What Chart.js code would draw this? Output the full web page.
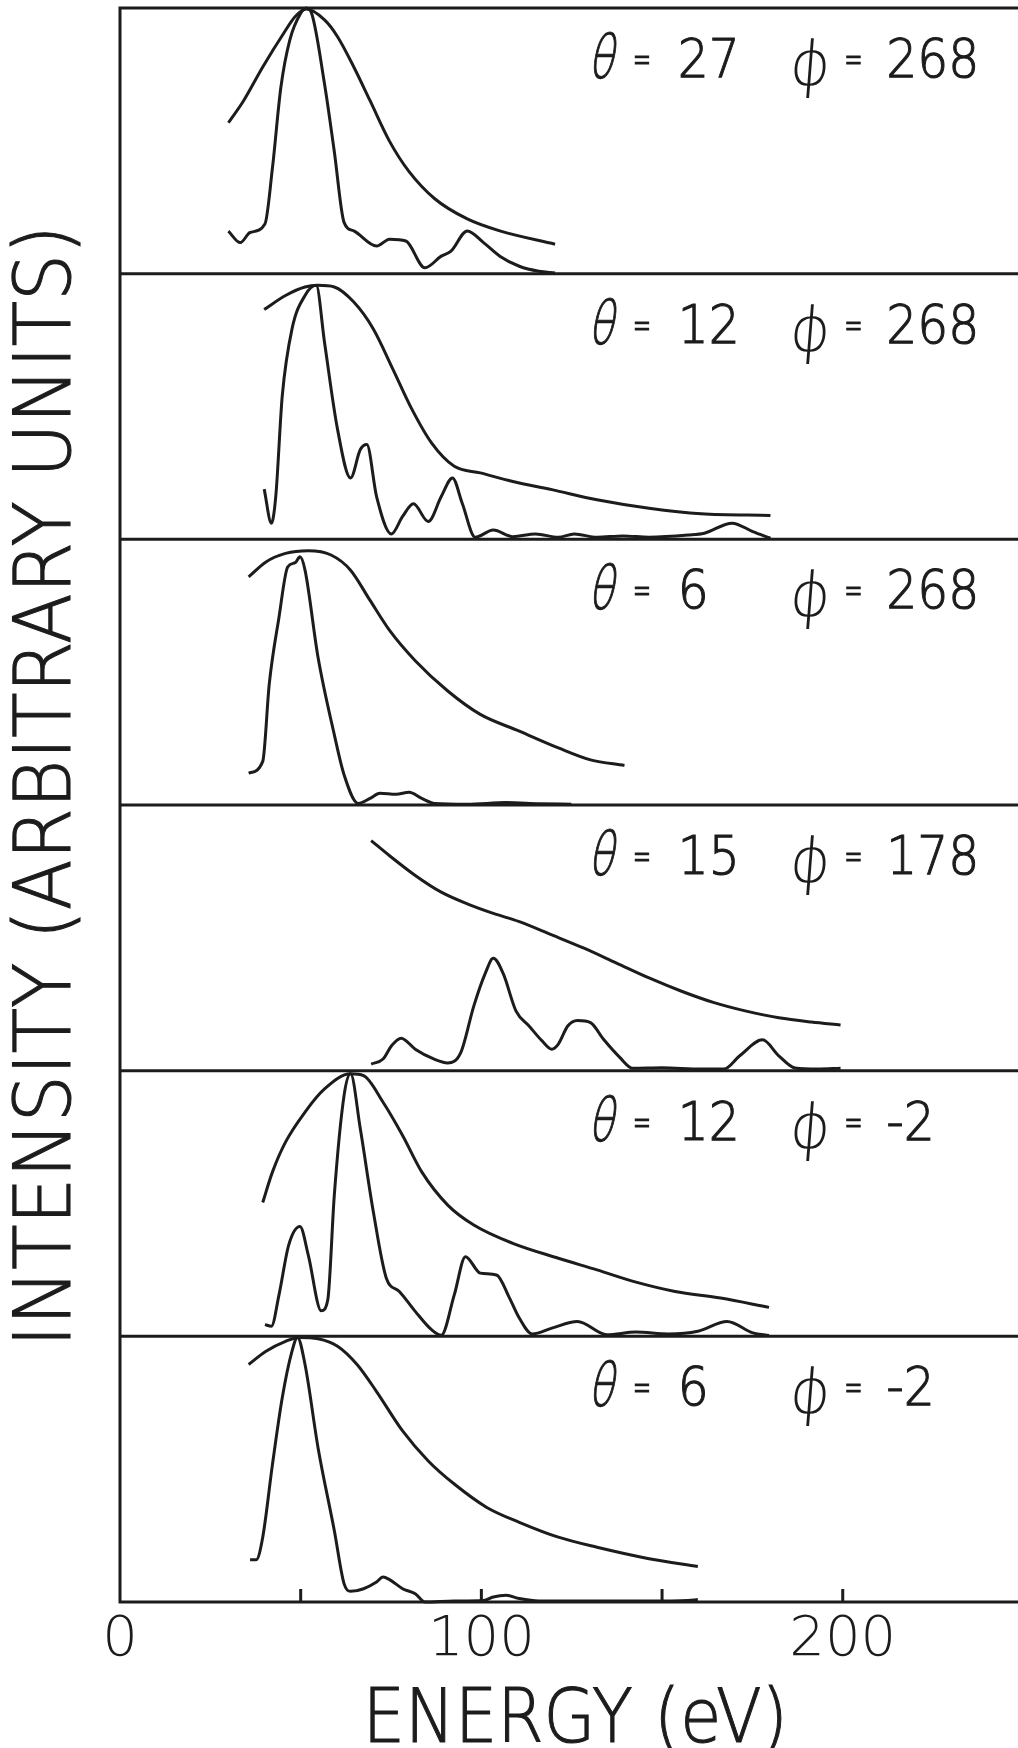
<!DOCTYPE html>
<html>
<head>
<meta charset="utf-8">
<script src="https://cdn.jsdelivr.net/npm/chart.js@4.4.1/dist/chart.umd.min.js"></script>
<style>
  html, body { margin: 0; padding: 0; background: #fff; }
  canvas { display: block; }
</style>
</head>
<body>
<canvas id="spectra" width="1018" height="1748"></canvas>
<script>
// panel captions, top to bottom (degrees)
const thetaDeg = ['27', '12', '6', '15', '12', '6'];
const phiDeg = ['268', '268', '268', '178', '-2', '-2'];

// energy ticks: marks every 50 eV, labels every 100 eV
const tickValues = [0, 50, 100, 150, 200];
const labelledTicks = [0, 100, 200];

// [energy eV, intensity (arbitrary, 0..1 per panel)]
const envelope1 = [[30,0.568],[34.2,0.651],[39.5,0.778],[45.3,0.905],[48.5,0.968],[51.6,0.996],[56.6,0.955],[60.2,0.892],[64.7,0.778],[69.2,0.651],[74.6,0.498],[80,0.384],[87.1,0.282],[96.1,0.206],[105.1,0.161],[120.4,0.111]];
const spectrum1 = [[30,0.16],[33.3,0.117],[36,0.155],[40.1,0.187],[42.2,0.40],[44.5,0.70],[47,0.88],[50,0.98],[51.5,1.0],[53,0.981],[56.6,0.714],[59.3,0.46],[62,0.193],[64.7,0.161],[71,0.104],[74.6,0.13],[79.1,0.123],[84.4,0.022],[88.9,0.066],[91.6,0.085],[96.1,0.161],[100.6,0.117],[105.1,0.066],[110.5,0.028],[115.9,0.009],[120.4,0.003]];

const envelope2 = [[39.9,0.865],[45.8,0.918],[51.2,0.95],[54.8,0.956],[59.3,0.95],[64.7,0.893],[70.1,0.792],[75.5,0.641],[80.8,0.489],[86.2,0.363],[92.5,0.275],[99.7,0.25],[108.7,0.218],[119.5,0.187],[132,0.149],[146.4,0.117],[160.8,0.096],[180,0.09]];
const spectrum2 = [[39.9,0.189],[41.9,0.061],[43.1,0.161],[44.9,0.54],[47.6,0.792],[51.2,0.918],[54.3,0.956],[56.6,0.741],[60.2,0.414],[63.8,0.231],[66.5,0.338],[68.3,0.357],[71,0.161],[75.1,0.02],[78.2,0.086],[81.2,0.134],[85.3,0.067],[88.9,0.161],[92,0.231],[94.7,0.136],[98.3,0.008],[103.3,0.035],[108.7,0.01],[115,0.02],[121.3,0.008],[125.7,0.02],[132,0.008],[139.2,0.013],[146.4,0.008],[157.2,0.016],[161.7,0.023],[169.4,0.061],[175.1,0.029],[180,0.004]];

const envelope3 = [[35.6,0.859],[40.4,0.915],[45.8,0.947],[52.1,0.957],[58.4,0.941],[63.8,0.884],[69.2,0.77],[74.6,0.657],[81.7,0.543],[90.7,0.429],[99.7,0.341],[110.5,0.278],[121.3,0.215],[130.2,0.17],[139.6,0.149]];
const spectrum3 = [[35.6,0.12],[39.5,0.164],[41.3,0.455],[44,0.707],[46.4,0.896],[48.5,0.912],[49.8,0.934],[51.2,0.884],[54.8,0.556],[59.3,0.265],[62,0.114],[65.9,0.006],[69.2,0.025],[71.9,0.044],[76.4,0.04],[80,0.048],[83.5,0.025],[87.1,0.006],[96.1,0.003],[106.9,0.009],[115.9,0.005],[124.9,0.003]];

const envelope4 = [[69.5,0.866],[74.6,0.809],[81.7,0.735],[88.9,0.672],[96.1,0.628],[103.3,0.592],[110.5,0.561],[119.5,0.511],[128.4,0.461],[137.4,0.405],[146.4,0.349],[155.4,0.299],[164.4,0.256],[173.3,0.224],[182.3,0.199],[191.3,0.183],[199.4,0.172]];
const spectrum4 = [[69.5,0.025],[72.8,0.044],[75.1,0.093],[77.8,0.122],[81.7,0.081],[86.8,0.044],[90.7,0.029],[94.3,0.068],[97.9,0.243],[101.1,0.367],[103.3,0.423],[106,0.367],[109.6,0.224],[113.2,0.168],[116.8,0.112],[119.5,0.081],[121.3,0.1],[123.9,0.168],[126.6,0.189],[130.2,0.181],[133.8,0.118],[138.3,0.05],[141.9,0.009],[150,0.011],[160.8,0.006],[167.1,0.006],[171.5,0.056],[177.8,0.116],[182.3,0.056],[186.8,0.01],[193.1,0.006],[199.4,0.009]];

const envelope5 = [[39.5,0.504],[42.2,0.619],[45.8,0.731],[51.2,0.844],[56.6,0.931],[63.8,0.988],[67.4,0.981],[72.8,0.881],[78.2,0.756],[83.5,0.619],[90.7,0.494],[97.9,0.419],[108.7,0.35],[121.3,0.294],[132,0.25],[142.8,0.204],[153.6,0.169],[166.2,0.144],[179.6,0.109]];
const spectrum5 = [[40.1,0.044],[41.9,0.038],[44,0.156],[46.7,0.344],[49.8,0.413],[52.1,0.306],[55.7,0.096],[57.5,0.138],[59.3,0.531],[62,0.906],[63.8,0.988],[66.5,0.781],[70.1,0.469],[73.7,0.219],[77.3,0.169],[81.7,0.094],[86.2,0.025],[88.9,0.004],[92.5,0.156],[95.6,0.3],[99.7,0.238],[104.2,0.231],[107.8,0.144],[110.5,0.069],[114.1,0.009],[119.5,0.031],[126.6,0.056],[134.7,0.006],[142.8,0.016],[151.8,0.009],[159.9,0.019],[168,0.056],[175.1,0.013],[179.6,0.003]];

const envelope6 = [[35.6,0.894],[40.4,0.944],[45.8,0.981],[49.4,0.996],[54.8,0.991],[60.2,0.963],[65.6,0.894],[70.9,0.794],[78.2,0.644],[85.3,0.531],[92.5,0.444],[101.5,0.356],[110.5,0.3],[121.3,0.244],[132,0.206],[146.4,0.163],[159.9,0.134]];
const spectrum6 = [[36,0.159],[37.7,0.159],[39.5,0.244],[42.2,0.519],[44.9,0.769],[47.6,0.944],[49.1,0.996],[51.2,0.894],[54.8,0.581],[59.3,0.269],[62,0.069],[63.8,0.04],[67.4,0.05],[71,0.075],[72.8,0.094],[74.6,0.084],[78.2,0.05],[81.7,0.031],[84.4,0],[92.5,0.004],[100.6,0.006],[103.3,0.019],[106.9,0.025],[110.5,0.013],[115.9,0.004],[128.4,0.004],[146.4,0.004],[157.2,0.006],[159.9,0.009]];

const envelopes = [envelope1, envelope2, envelope3, envelope4, envelope5, envelope6];
const spectra = [spectrum1, spectrum2, spectrum3, spectrum4, spectrum5, spectrum6];

const INK = '#1c1c1c';
const FONT = "'DejaVu Sans', 'Liberation Sans', sans-serif";
const panelIds = thetaDeg.map((_, i) => 'p' + i);

const toPoints = arr => arr.map(([x, y]) => ({ x, y }));

const datasets = [];
panelIds.forEach((id, i) => {
  [envelopes[i], spectra[i]].forEach(curve => {
    datasets.push({
      data: toPoints(curve),
      yAxisID: id,
      borderColor: INK,
      borderWidth: 3,
      pointRadius: 0,
      fill: false,
      cubicInterpolationMode: 'monotone',
      clip: false
    });
  });
});

const scales = {
  x: {
    type: 'linear',
    position: 'bottom',
    min: 0,
    max: 248.5,
    afterBuildTicks: s => { s.ticks = tickValues.map(value => ({ value })); },
    afterFit: s => { s.height = 146; },
    grid: { display: false, drawTicks: false },
    border: { display: false },
    ticks: {
      autoSkip: false,
      maxRotation: 0,
      padding: 5,
      color: INK,
      font: { family: FONT, size: 56, weight: 200 },
      callback: v => labelledTicks.includes(v) ? String(v) : ''
    }
  }
};
panelIds.forEach((id, i) => {
  scales[id] = {
    type: 'linear',
    position: 'left',
    stack: 'panels',
    stackWeight: 1,
    weight: panelIds.length - i,
    min: 0,
    max: 1,
    display: false
  };
});

// hand-lettered look: thin font, filled and lightly stroked, optional squeeze / slant
function letter(ctx, txt, x, y, sx, slant, stroke = 1.1) {
  ctx.save();
  ctx.transform(sx, 0, -(slant || 0), 1, x, y);
  ctx.fillText(txt, 0, 0);
  if (stroke) {
    ctx.lineWidth = stroke;
    ctx.strokeText(txt, 0, 0);
  }
  ctx.restore();
}

const framePlugin = {
  id: 'frame',
  beforeDraw(chart) {
    const { ctx, width, height } = chart;
    ctx.save();
    ctx.fillStyle = '#fff';
    ctx.fillRect(0, 0, width, height);
    ctx.restore();
  },
  afterDatasetsDraw(chart) {
    const { ctx, chartArea: a, scales: sc } = chart;
    const xs = sc.x;
    ctx.save();
    ctx.strokeStyle = INK;
    ctx.lineWidth = 3;
    ctx.beginPath();
    panelIds.forEach((id, i) => {
      const s = sc[id];
      const yb = s.getPixelForValue(0);
      ctx.moveTo(a.left, yb); ctx.lineTo(a.right, yb);
      if (i === 0) {
        const yt = s.getPixelForValue(1);
        ctx.moveTo(a.left, yt); ctx.lineTo(a.right, yt);
      }
    });
    const x0 = xs.getPixelForValue(0);
    ctx.moveTo(x0, a.top - 1.5); ctx.lineTo(x0, a.bottom + 1.5);
    // tick marks point up into the lowest panel
    xs.ticks.forEach(t => {
      if (t.value > 0) {
        const px = xs.getPixelForValue(t.value);
        ctx.moveTo(px, a.bottom); ctx.lineTo(px, a.bottom - 13);
      }
    });
    ctx.stroke();

    // panel captions
    ctx.fillStyle = INK;
    ctx.textBaseline = 'alphabetic';
    ctx.textAlign = 'left';
    panelIds.forEach((id, i) => {
      const s = sc[id];
      const y = s.getPixelForValue(0.74);
      const xt = xs.getPixelForValue(130);
      const xp = xs.getPixelForValue(186);
      ctx.font = `200 60px ${FONT}`;
      letter(ctx, 'θ', xt - 2, y + 1, 0.7, 0.2);
      ctx.font = `200 40px ${FONT}`;
      letter(ctx, '=', xt + 43, y - 4, 0.55);
      ctx.font = `200 53px ${FONT}`;
      letter(ctx, thetaDeg[i], xt + 88, y, 0.92);
      ctx.font = `200 62px ${FONT}`;
      letter(ctx, 'ϕ', xp - 4, y + 8, 1.0, 0.08, 0);
      ctx.font = `200 40px ${FONT}`;
      letter(ctx, '=', xp + 52, y - 4, 0.55);
      ctx.font = `200 53px ${FONT}`;
      letter(ctx, phiDeg[i], xp + 94, y, 0.92);
    });

    // axis titles
    ctx.font = `200 75px ${FONT}`;
    const xt = 'ENERGY (eV)';
    const xw = ctx.measureText(xt).width;
    const xsx = 425 / xw;
    letter(ctx, xt, xs.getPixelForValue(126) - xw * xsx / 2, chart.height - 6, xsx);

    ctx.font = `200 78px ${FONT}`;
    const yt = 'INTENSITY (ARBITRARY UNITS)';
    const yw = ctx.measureText(yt).width;
    const ysx = 1122 / yw;
    ctx.save();
    ctx.translate(70, 786);
    ctx.rotate(-Math.PI / 2);
    letter(ctx, yt, -yw * ysx / 2, 0, ysx);
    ctx.restore();
    ctx.restore();
  }
};

new Chart(document.getElementById('spectra'), {
  type: 'line',
  data: { datasets },
  options: {
    responsive: false,
    animation: false,
    layout: { padding: { left: 120, top: 8, right: 0, bottom: 0 } },
    plugins: { legend: { display: false }, tooltip: { enabled: false } },
    scales
  },
  plugins: [framePlugin]
});
</script>
</body>
</html>
